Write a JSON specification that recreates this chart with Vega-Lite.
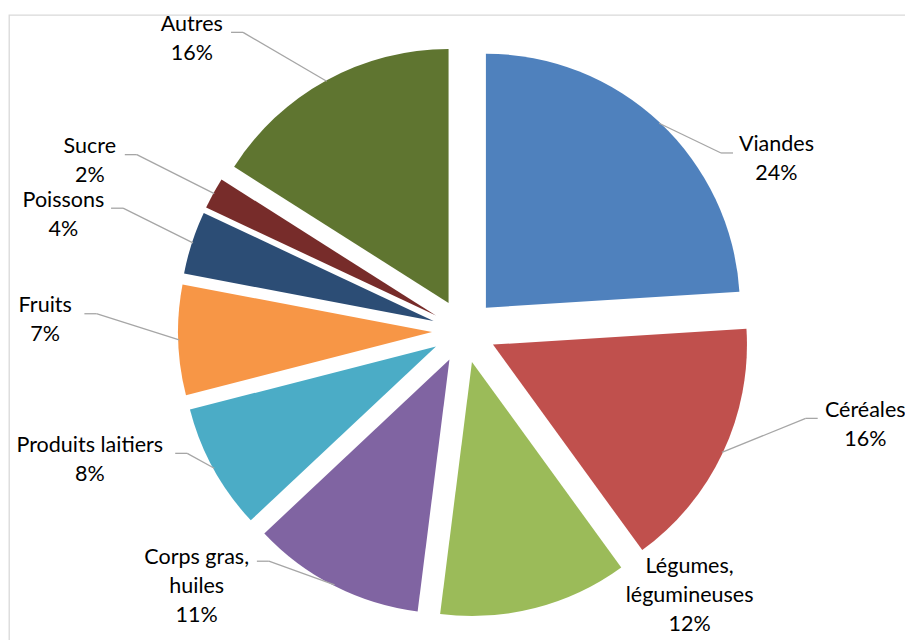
{
  "$schema": "https://vega.github.io/schema/vega-lite/v6.json",
  "autosize": "none",
  "width": 910,
  "height": 632,
  "padding": {"left": 9, "top": 15, "right": 0, "bottom": 0},
  "background": "white",
  "view": {"stroke": "#d9d9d9", "strokeWidth": 1.3, "fill": "white"},
  "data": {
    "values": [
      {"cat": "Viandes", "label": "Viandes\n24%", "value": 24},
      {"cat": "Céréales", "label": "Céréales\n16%", "value": 16},
      {"cat": "Légumes, légumineuses", "label": "Légumes,\nlégumineuses\n12%", "value": 12},
      {"cat": "Corps gras, huiles", "label": "Corps gras,\nhuiles\n11%", "value": 11},
      {"cat": "Produits laitiers", "label": "Produits laitiers\n8%", "value": 8},
      {"cat": "Fruits", "label": "Fruits\n7%", "value": 7},
      {"cat": "Poissons", "label": "Poissons\n4%", "value": 4},
      {"cat": "Sucre", "label": "Sucre\n2%", "value": 2},
      {"cat": "Autres", "label": "Autres\n16%", "value": 16}
    ]
  },
  "transform": [
    {"stack": "value", "groupby": [], "as": ["v0", "v1"]}
  ],
  "layer": [
    {
      "mark": {
        "type": "arc",
        "outerRadius": 254,
        "x": {"expr": "width/2 + 32*sin((datum.v0+datum.v1)*PI/100)"},
        "y": {"expr": "height/2 - 32*cos((datum.v0+datum.v1)*PI/100)"}
      },
      "encoding": {
        "theta": {"field": "v0", "type": "quantitative", "scale": {"domain": [0, 100], "range": [0, 6.283185307179586]}},
        "theta2": {"field": "v1"},
        "color": {
          "field": "cat",
          "type": "nominal",
          "legend": null,
          "scale": {
            "domain": ["Viandes", "Céréales", "Légumes, légumineuses", "Corps gras, huiles", "Produits laitiers", "Fruits", "Poissons", "Sucre", "Autres"],
            "range": ["#4F81BD", "#C0504D", "#9BBB59", "#8064A2", "#4BACC6", "#F79646", "#2C4D75", "#772C2A", "#5F7530"]
          }
        }
      }
    },
    {
      "mark": {"type": "rule", "color": "#a6a6a6", "strokeWidth": 1.3},
      "encoding": {
        "x": {"value": {"expr": "width/2 + 285*sin((datum.v0+datum.v1)*PI/100)"}},
        "y": {"value": {"expr": "height/2 - 285*cos((datum.v0+datum.v1)*PI/100)"}},
        "x2": {"value": {"expr": "width/2 + (sin((datum.v0+datum.v1)*PI/100)<0 ? -(232 - 13*abs(sin((datum.v0+datum.v1)*PI/100)) + 200*pow(sin((datum.v0+datum.v1)*PI/100),2) - indexof(datum.label,'\\n')*4.2 - 26) : (229 - 91*sin((datum.v0+datum.v1)*PI/100) + 311*pow(sin((datum.v0+datum.v1)*PI/100),2) - indexof(datum.label,'\\n')*4.2 - 26))"}},
        "y2": {"value": {"expr": "height/2 + (sin((datum.v0+datum.v1)*PI/100)<0 ? (-20-310*cos((datum.v0+datum.v1)*PI/100)) : (-19 - 245*cos((datum.v0+datum.v1)*PI/100) + 50*pow(cos((datum.v0+datum.v1)*PI/100),2))) - 7 - (length(split(datum.label,'\\n'))-2)*19"}},
        "opacity": {"value": {"expr": "abs(cos((datum.v0+datum.v1)*PI/100))>0.93?0:1"}}
      }
    },
    {
      "mark": {"type": "rule", "color": "#a6a6a6", "strokeWidth": 1.3},
      "encoding": {
        "x": {"value": {"expr": "width/2 + (sin((datum.v0+datum.v1)*PI/100)<0 ? -(232 - 13*abs(sin((datum.v0+datum.v1)*PI/100)) + 200*pow(sin((datum.v0+datum.v1)*PI/100),2) - indexof(datum.label,'\\n')*4.2 - 26) : (229 - 91*sin((datum.v0+datum.v1)*PI/100) + 311*pow(sin((datum.v0+datum.v1)*PI/100),2) - indexof(datum.label,'\\n')*4.2 - 26))"}},
        "y": {"value": {"expr": "height/2 + (sin((datum.v0+datum.v1)*PI/100)<0 ? (-20-310*cos((datum.v0+datum.v1)*PI/100)) : (-19 - 245*cos((datum.v0+datum.v1)*PI/100) + 50*pow(cos((datum.v0+datum.v1)*PI/100),2))) - 7 - (length(split(datum.label,'\\n'))-2)*19"}},
        "x2": {"value": {"expr": "width/2 + (sin((datum.v0+datum.v1)*PI/100)<0 ? -(232 - 13*abs(sin((datum.v0+datum.v1)*PI/100)) + 200*pow(sin((datum.v0+datum.v1)*PI/100),2) - indexof(datum.label,'\\n')*4.2 - 14) : (229 - 91*sin((datum.v0+datum.v1)*PI/100) + 311*pow(sin((datum.v0+datum.v1)*PI/100),2) - indexof(datum.label,'\\n')*4.2 - 14))"}},
        "y2": {"value": {"expr": "height/2 + (sin((datum.v0+datum.v1)*PI/100)<0 ? (-20-310*cos((datum.v0+datum.v1)*PI/100)) : (-19 - 245*cos((datum.v0+datum.v1)*PI/100) + 50*pow(cos((datum.v0+datum.v1)*PI/100),2))) - 7 - (length(split(datum.label,'\\n'))-2)*19"}},
        "opacity": {"value": {"expr": "abs(cos((datum.v0+datum.v1)*PI/100))>0.93?0:1"}}
      }
    },
    {
      "mark": {
        "type": "text",
        "font": "Lato",
        "fontSize": 21.5,
        "color": "#000000",
        "align": "center",
        "baseline": "middle",
        "lineBreak": "\n",
        "lineHeight": 29,
        "x": {"expr": "width/2 + (sin((datum.v0+datum.v1)*PI/100)<0 ? -(232 - 13*abs(sin((datum.v0+datum.v1)*PI/100)) + 200*pow(sin((datum.v0+datum.v1)*PI/100),2)) : (229 - 91*sin((datum.v0+datum.v1)*PI/100) + 311*pow(sin((datum.v0+datum.v1)*PI/100),2)))"},
        "y": {"expr": "height/2 + (sin((datum.v0+datum.v1)*PI/100)<0 ? (-20-310*cos((datum.v0+datum.v1)*PI/100)) : (-19 - 245*cos((datum.v0+datum.v1)*PI/100) + 50*pow(cos((datum.v0+datum.v1)*PI/100),2))) - (length(split(datum.label,'\\n'))-1)*14.5"}
      },
      "encoding": {
        "text": {"field": "label"}
      }
    }
  ]
}
